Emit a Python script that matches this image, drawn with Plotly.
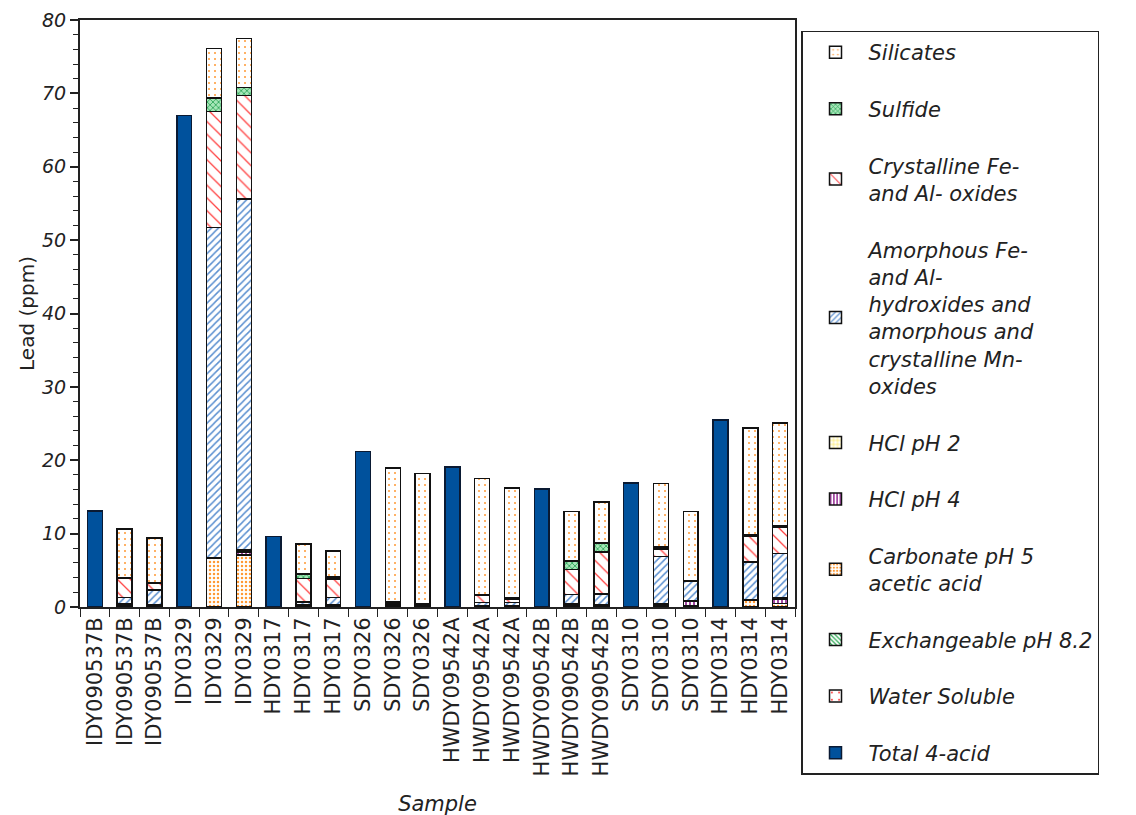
import plotly.graph_objects as go

# ---------------- data ----------------
samples = ["IDY090537B", "IDY090537B", "IDY090537B",
           "IDY0329", "IDY0329", "IDY0329",
           "HDY0317", "HDY0317", "HDY0317",
           "SDY0326", "SDY0326", "SDY0326",
           "HWDY09542A", "HWDY09542A", "HWDY09542A",
           "HWDY090542B", "HWDY090542B", "HWDY090542B",
           "SDY0310", "SDY0310", "SDY0310",
           "HDY0314", "HDY0314", "HDY0314"]

N = None
total_4acid = [13.1, N, N, 67.0, N, N, 9.6, N, N, 21.2, N, N,
               19.1, N, N, 16.1, N, N, 16.9, N, N, 25.5, N, N]

water_soluble = [N, 0.05, 0.05, N, 0.05, 0.05, N, 0.05, 0.05, N, 0.05, 0.05,
                 N, 0.05, 0.05, N, 0.05, 0.05, N, 0.05, 0.05, N, 0.05, 0.05]
exchangeable = [N, 0.1, 0.05, N, 0.05, 0.05, N, 0.05, 0.05, N, 0.05, 0.05,
                N, 0.05, 0.05, N, 0.05, 0.05, N, 0.05, 0.05, N, 0.05, 0.05]
carbonate = [N, 0.15, 0.1, N, 6.5, 7.0, N, 0.1, 0.1, N, 0.1, 0.05,
             N, 0.05, 0.05, N, 0.2, 0.1, N, 0.2, 0.1, N, 0.8, 0.4]
hcl_ph4 = [N, 0.05, 0.05, N, 0.05, 0.4, N, 0.05, 0.05, N, 0.05, 0.03,
           N, 0.03, 0.03, N, 0.05, 0.05, N, 0.1, 0.6, N, 0.05, 0.6]
hcl_ph2 = [N, 0.05, 0.05, N, 0.05, 0.3, N, 0.05, 0.05, N, 0.05, 0.02,
           N, 0.02, 0.02, N, 0.05, 0.05, N, 0.1, 0.1, N, 0.05, 0.1]
amorphous = [N, 0.9, 2.0, N, 45.0, 47.8, N, 0.4, 1.0, N, 0.2, 0.1,
             N, 0.4, 0.4, N, 1.3, 1.5, N, 6.4, 2.6, N, 5.1, 6.1]
crystalline = [N, 2.6, 0.9, N, 15.8, 14.1, N, 3.2, 2.5, N, 0.1, 0.05,
               N, 1.0, 0.5, N, 3.4, 5.7, N, 1.0, 0.05, N, 3.5, 3.6]
sulfide = [N, 0.1, 0.15, N, 1.9, 1.1, N, 0.6, 0.3, N, 0.05, 0.05,
           N, 0.1, 0.2, N, 1.2, 1.2, N, 0.3, 0.05, N, 0.2, 0.2]
silicates = [N, 6.6, 6.05, N, 6.7, 6.7, N, 4.1, 3.5, N, 18.3, 17.8,
             N, 15.8, 14.9, N, 6.7, 5.6, N, 8.6, 9.4, N, 14.6, 14.0]

y_ticks = [0, 10, 20, 30, 40, 50, 60, 70, 80]

# ---------------- styling ----------------
FONT = "DejaVu Sans"
x = list(range(len(samples)))

series = [
    # name, values, pattern shape, fg, bg, size, solidity
    ("Water Soluble", water_soluble, ".", "#FF3030", "white", 9, 0.06),
    ("Exchangeable pH 8.2", exchangeable, "\\", "#2EAA55", "white", 4, 0.4),
    ("Carbonate pH 5<br>acetic acid", carbonate, ".", "#FF9933", "white", 4, 0.3),
    ("HCl pH 4", hcl_ph4, "|", "#8B1A8B", "white", 4, 0.4),
    ("HCl pH 2", hcl_ph2, "+", "#FFE000", "white", 5, 0.2),
    ("Amorphous Fe-<br>and Al-<br>hydroxides and<br>amorphous and<br>crystalline Mn-<br>oxides",
     amorphous, "/", "#5A8FD0", "white", 5, 0.3),
    ("Crystalline Fe-<br>and Al- oxides", crystalline, "\\", "#FF4040", "white", 9, 0.14),
    ("Sulfide", sulfide, "x", "#22A050", "#A6E6B8", 4, 0.35),
    ("Silicates", silicates, ".", "#FF9933", "white", 6, 0.09),
]

fig = go.Figure()

fig.add_trace(go.Bar(
    x=x, y=total_4acid, name="Total 4-acid", legendgroup="total", legendrank=10,
    marker=dict(color="#00519C", line=dict(color="#0A1A33", width=1.5)),
    width=0.5,
))

for i, (name, vals, shape, fg, bg, size, sol) in enumerate(series):
    fig.add_trace(go.Bar(
        x=x, y=vals, name=name, width=0.5, legendgroup="g%d" % i,
        legendrank=9 - i,
        marker=dict(
            color=bg,
            line=dict(color="#111111", width=1.5),
            pattern=dict(shape=shape, fgcolor=fg, bgcolor=bg, size=size,
                         solidity=sol, fillmode="replace"),
        ),
    ))

fig.update_layout(
    barmode="stack",
    width=1136, height=815,
    margin=dict(l=72, r=349, t=12, b=216, autoexpand=False),
    paper_bgcolor="white", plot_bgcolor="white",
    font=dict(family=FONT, size=17, color="#222222"),
    showlegend=True,
    legend=dict(
        x=1.0084, y=0.982, xanchor="left", yanchor="top",
        bordercolor="#222222", borderwidth=1.5, maxheight=800,
        font=dict(family=FONT, size=21, style="italic", color="#222222"),
        tracegroupgap=26.3, traceorder="grouped",
        itemwidth=56, valign="middle",
    ),
    xaxis=dict(
        type="category", tickmode="array", tickvals=x, ticktext=samples,
        tickangle=-90, tickson="boundaries", ticks="outside", ticklen=8,
        tickcolor="#222222", tickwidth=1, automargin=False,
        ticklabeloverflow="allow",
        showline=True, linecolor="#222222", linewidth=2, mirror=True,
        showgrid=False, range=[-0.5, len(samples) - 0.5],
        tickfont=dict(family=FONT, size=21, color="#222222"),
        title=dict(text="Sample", font=dict(family=FONT, size=21, style="italic"), standoff=21),
    ),
    yaxis=dict(
        range=[0, 80], tickmode="array", tickvals=y_ticks, automargin=False,
        ticklabeloverflow="allow",
        ticks="outside", ticklen=8, tickcolor="#222222", tickwidth=1.5,
        minor=dict(dtick=2, ticks="outside", ticklen=5, tickcolor="#222222", tickwidth=1),
        showline=True, linecolor="#222222", linewidth=2, mirror=True,
        showgrid=False, zeroline=False,
        tickfont=dict(family=FONT, size=19, style="italic", color="#222222"),
        title=dict(text="Lead (ppm)", font=dict(family=FONT, size=20), standoff=2),
    ),
)

fig.write_html("out.html")
